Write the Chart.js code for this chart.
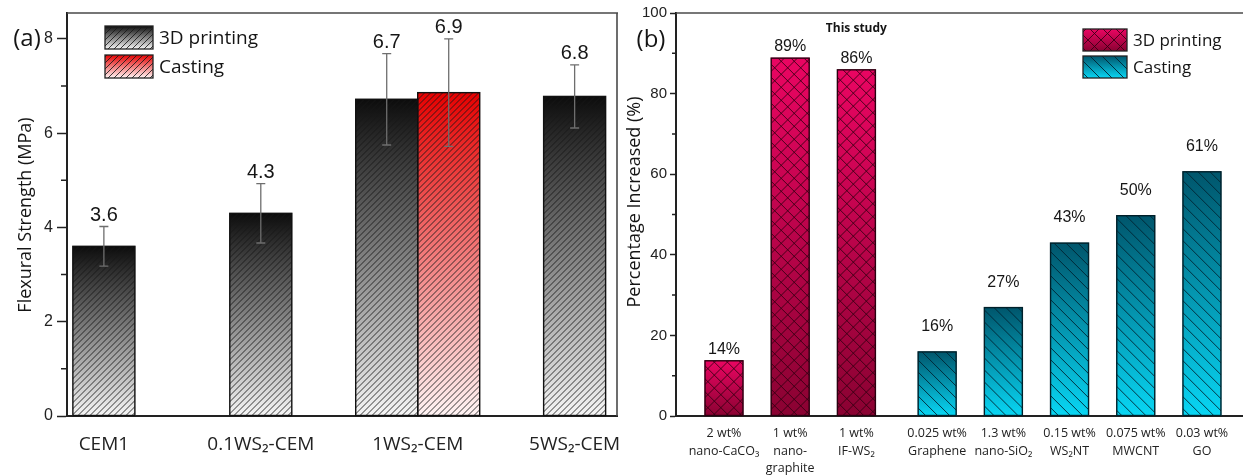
<!DOCTYPE html>
<html><head><meta charset="utf-8">
<script src="https://cdn.jsdelivr.net/npm/chart.js@4.4.1/dist/chart.umd.min.js"></script>
<style>
html,body{margin:0;padding:0;background:#fff;width:1243px;height:475px;overflow:hidden}
#wa{position:absolute;left:0;top:0;width:622px;height:475px}
#wb{position:absolute;left:622px;top:0;width:621px;height:475px}
</style></head><body>
<div id="wa"><canvas id="ca"></canvas></div>
<div id="wb"><canvas id="cb"></canvas></div>
<script>
// ---------- Panel (a) data ----------
const catsA = ['CEM1', '0.1WS₂-CEM', '1WS₂-CEM', '5WS₂-CEM'];
const printA = [3.6, 4.3, 6.72, 6.78];
const printErrA = [0.42, 0.63, 0.97, 0.67];
const castA = [null, null, 6.86, null];
const castErrA = [null, null, 1.14, null];
const yTicksA = [0, 2, 4, 6, 8];
const yMinorA = [1, 3, 5, 7];

// ---------- Panel (b) data ----------
const catsB3D = [['2 wt%', 'nano-CaCO₃'], ['1 wt%', 'nano-', 'graphite'], ['1 wt%', 'IF-WS₂']];
const valsB3D = [13.7, 88.8, 85.9];
const catsBCast = [['0.025 wt%', 'Graphene'], ['1.3 wt%', 'nano-SiO₂'], ['0.15 wt%', 'WS₂NT'], ['0.075 wt%', 'MWCNT'], ['0.03 wt%', 'GO']];
const valsBCast = [15.9, 26.9, 42.9, 49.7, 60.6];
const yTicksB = [0, 20, 40, 60, 80, 100];
const yMinorB = [10, 30, 50, 70, 90];

// ---------- styling / layout ----------
const FNUM = '"Liberation Sans", Arial, sans-serif';
const FTXT = '"Open Sans", "Noto Sans", sans-serif';
const GROUP_GAP = 0.22;
Chart.defaults.font.family = FTXT;
Chart.defaults.color = '#222';

function gradFill(top, bot) {
  return (c) => {
    if (c.type !== 'data' || !c.chart.chartArea) return top;
    const v = c.raw ? c.raw.y : null;
    if (v == null) return top;
    const ys = c.chart.scales.y;
    const g = c.chart.ctx.createLinearGradient(0, ys.getPixelForValue(v), 0, ys.getPixelForValue(0));
    g.addColorStop(0, top); g.addColorStop(1, bot);
    return g;
  };
}
function hatchRect(ctx, l, t, w, h, hatch) {
  ctx.save();
  ctx.beginPath(); ctx.rect(l, t, w, h); ctx.clip();
  ctx.strokeStyle = hatch.color; ctx.lineWidth = hatch.width;
  ctx.beginPath();
  const s = hatch.spacing;
  hatch.dirs.forEach(dir => {
    for (let k = Math.floor((l - h) / s) * s; k < l + w + s; k += s) {
      if (dir > 0) { ctx.moveTo(k, t + h); ctx.lineTo(k + h, t); }
      else { ctx.moveTo(k, t); ctx.lineTo(k + h, t + h); }
    }
  });
  ctx.stroke();
  ctx.restore();
}
const barDecor = {
  id: 'barDecor',
  afterDatasetsDraw(chart) {
    const ctx = chart.ctx, ys = chart.scales.y;
    chart.data.datasets.forEach((ds, di) => {
      chart.getDatasetMeta(di).data.forEach((el, i) => {
        const raw = ds.data[i]; if (!raw || raw.y == null) return;
        const p = el.getProps(['x', 'y', 'base', 'width'], true);
        const l = p.x - p.width / 2, t = Math.min(p.y, p.base), h = Math.abs(p.base - p.y);
        if (ds.hatch) hatchRect(ctx, l, t, p.width, h, ds.hatch);
        ctx.save(); ctx.strokeStyle = ds.edge || '#111'; ctx.lineWidth = 1.4;
        ctx.strokeRect(l, t, p.width, h); ctx.restore();
      });
    });
    // error bars and value notes
    chart.data.datasets.forEach((ds, di) => {
      chart.getDatasetMeta(di).data.forEach((el, i) => {
        const raw = ds.data[i]; if (!raw || raw.y == null) return;
        const x = el.x;
        let topY = ys.getPixelForValue(raw.y);
        if (ds.errs && ds.errs[i] != null) {
          const e = ds.errs[i];
          const y1 = ys.getPixelForValue(raw.y + e), y0 = ys.getPixelForValue(raw.y - e);
          ctx.save(); ctx.strokeStyle = '#6e6e6e'; ctx.lineWidth = 1.3;
          ctx.beginPath();
          ctx.moveTo(x, y0); ctx.lineTo(x, y1);
          ctx.moveTo(x - 4.5, y1); ctx.lineTo(x + 4.5, y1);
          ctx.moveTo(x - 4.5, y0); ctx.lineTo(x + 4.5, y0);
          ctx.stroke(); ctx.restore();
          topY = y1;
        }
        if (ds.noteFmt) {
          ctx.save(); ctx.fillStyle = '#161616'; ctx.font = ds.noteFont;
          ctx.textAlign = 'center'; ctx.textBaseline = 'alphabetic';
          ctx.fillText(ds.noteFmt(raw.y), x, topY - ds.noteGap);
          ctx.restore();
        }
      });
    });
  }
};
const boxLegend = {
  id: 'boxLegend',
  afterDraw(chart, args, o) {
    const ctx = chart.ctx;
    chart.data.datasets.forEach((ds, k) => {
      const l = o.x, t = o.y + k * o.step, w = o.w, h = o.h;
      ctx.save();
      const g = ctx.createLinearGradient(0, t, 0, t + h);
      g.addColorStop(0, ds.gTop); g.addColorStop(1, ds.gBot);
      ctx.fillStyle = g; ctx.fillRect(l, t, w, h);
      hatchRect(ctx, l, t, w, h, ds.hatch);
      ctx.strokeStyle = '#222'; ctx.lineWidth = 1.3; ctx.strokeRect(l, t, w, h);
      ctx.fillStyle = '#151515'; ctx.font = o.font; ctx.textAlign = 'left'; ctx.textBaseline = 'middle';
      ctx.fillText(ds.label, l + w + o.gap, t + h / 2 + 1);
      ctx.restore();
    });
  }
};
const frame = {
  id: 'frame',
  afterDraw(chart, args, o) {
    const {ctx, chartArea: {left, top, right, bottom}} = chart;
    const ys = chart.scales.y;
    ctx.save();
    ctx.strokeStyle = '#4a4a4a'; ctx.lineWidth = 1.6;
    ctx.beginPath(); ctx.moveTo(left, top); ctx.lineTo(right + 1, top);
    if (o.right) { ctx.moveTo(right, top); ctx.lineTo(right, bottom); }
    ctx.stroke();
    ctx.strokeStyle = '#222'; ctx.lineWidth = 1.5;
    ctx.beginPath();
    o.minor.forEach(v => { const y = ys.getPixelForValue(v); ctx.moveTo(left - o.minorLen, y); ctx.lineTo(left, y); });
    ctx.stroke();
    o.texts.forEach(t => {
      ctx.save();
      ctx.font = t.font; ctx.fillStyle = '#151515'; ctx.textAlign = 'center'; ctx.textBaseline = 'middle';
      const x = t.atX != null ? chart.scales.x.getPixelForValue(t.atX) : t.x;
      ctx.translate(x, t.y);
      if (t.rot) ctx.rotate(t.rot);
      ctx.fillText(t.text, 0, 0);
      ctx.restore();
    });
    ctx.restore();
  }
};

function yAxis(ticks, max, width, tickFont, tickLen, tickPad) {
  return {
    type: 'linear', min: 0, max: max,
    afterBuildTicks: s => { s.ticks = ticks.map(v => ({value: v})); },
    afterFit: s => { s.width = width; s.paddingTop = 0; s.paddingBottom = 0; },
    ticks: {font: {family: FNUM, size: tickFont}, color: '#222', padding: tickPad},
    grid: {display: true, drawOnChartArea: false, drawTicks: true, tickLength: tickLen, tickColor: '#222', tickWidth: 1.5},
    border: {display: true, color: '#222', width: 2}
  };
}
function xAxis(pos, labels, min, max, font, lh, pad) {
  return {
    type: 'linear', min: min, max: max, offset: false,
    afterBuildTicks: s => { s.ticks = pos.map(v => ({value: v})); },
    afterFit: s => { s.height = 59; s.paddingLeft = 0; s.paddingRight = 0; },
    ticks: {autoSkip: false, maxRotation: 0, padding: pad, font: {family: FTXT, size: font, lineHeight: lh}, color: '#222',
      callback: (v, i) => labels[i]},
    grid: {display: false, drawTicks: false},
    border: {display: true, color: '#222', width: 2}
  };
}

// ---------- Chart (a) ----------
const posA = catsA.map((c, i) => i);
new Chart(document.getElementById('ca'), {
  type: 'bar',
  data: {
    datasets: [
      {label: '3D printing', data: printA.map((v, i) => ({x: posA[i], y: v})), errs: printErrA,
        gTop: '#0c0c0c', gBot: '#f6f6f6', backgroundColor: gradFill('#0c0c0c', '#f6f6f6'),
        hatch: {dirs: [1], spacing: 6, color: 'rgba(25,25,25,0.85)', width: 1},
        noteFmt: v => v.toFixed(1), noteFont: '20px ' + FNUM, noteGap: 6,
        borderWidth: 0, barThickness: 62, skipNull: true},
      {label: 'Casting', data: castA.map((v, i) => ({x: posA[i], y: v})), errs: castErrA,
        gTop: '#e60000', gBot: '#fff4f4', backgroundColor: gradFill('#e60000', '#fff4f4'),
        hatch: {dirs: [1], spacing: 6, color: 'rgba(25,25,25,0.85)', width: 1},
        noteFmt: v => v.toFixed(1), noteFont: '20px ' + FNUM, noteGap: 6,
        borderWidth: 0, barThickness: 62, skipNull: true}
    ]
  },
  options: {
    responsive: true, maintainAspectRatio: false, animation: false,
    layout: {padding: {top: 13, right: 5, left: 0, bottom: 0}},
    scales: {
      x: xAxis(posA, catsA, -0.235, 3.27, 19, 1.2, 17),
      y: yAxis(yTicksA, 8.55, 67, 16, 10, 4)
    },
    plugins: {
      legend: {display: false}, tooltip: {enabled: false},
      boxLegend: {x: 105, y: 26, step: 29, w: 48, h: 23, gap: 6, font: '19px ' + FTXT},
      frame: {right: true, minor: yMinorA, minorLen: 6,
        texts: [{text: '(a)', x: 27, y: 39, font: '24px ' + FTXT},
                {text: 'Flexural Strength (MPa)', x: 26, y: 215, rot: -Math.PI / 2, font: '18px ' + FTXT}]}
    }
  },
  plugins: [barDecor, boxLegend, frame]
});

// ---------- Chart (b) ----------
const posB3D = catsB3D.map((c, i) => i);
const posBCast = catsBCast.map((c, i) => catsB3D.length + GROUP_GAP + i);
new Chart(document.getElementById('cb'), {
  type: 'bar',
  data: {
    datasets: [
      {label: '3D printing', data: valsB3D.map((v, i) => ({x: posB3D[i], y: v})),
        gTop: '#ea0562', gBot: '#8a0232', backgroundColor: gradFill('#ea0562', '#8a0232'),
        hatch: {dirs: [1, -1], spacing: 13, color: 'rgba(50,0,18,0.85)', width: 1},
        noteFmt: v => Math.round(v) + '%', noteFont: '16px ' + FNUM, noteGap: 7, edge: '#2a0010',
        borderWidth: 0, barThickness: 38, grouped: false},
      {label: 'Casting', data: valsBCast.map((v, i) => ({x: posBCast[i], y: v})),
        gTop: '#00566c', gBot: '#08d6f4', backgroundColor: gradFill('#00566c', '#08d6f4'),
        hatch: {dirs: [-1], spacing: 12, color: 'rgba(0,35,50,0.9)', width: 1},
        noteFmt: v => Math.round(v) + '%', noteFont: '16px ' + FNUM, noteGap: 21, edge: '#00202a',
        borderWidth: 0, barThickness: 38, grouped: false}
    ]
  },
  options: {
    responsive: true, maintainAspectRatio: false, animation: false,
    layout: {padding: {top: 13, right: 0, left: 0, bottom: 0}},
    scales: {
      x: xAxis(posB3D.concat(posBCast), catsB3D.concat(catsBCast), -0.725, 7.84, 12.5, 1.4, 9),
      y: yAxis(yTicksB, 100, 54, 15, 6, 3)
    },
    plugins: {
      legend: {display: false}, tooltip: {enabled: false},
      boxLegend: {x: 461, y: 29, step: 27, w: 44, h: 22, gap: 6, font: '17px ' + FTXT},
      frame: {right: false, minor: yMinorB, minorLen: 4,
        texts: [{text: '(b)', x: 29, y: 40, font: '24px ' + FTXT},
                {text: 'This study', atX: 2, y: 29, font: 'bold 12px ' + FTXT},
                {text: 'Percentage Increased (%)', x: 13, y: 202, rot: -Math.PI / 2, font: '18px ' + FTXT}]}
    }
  },
  plugins: [barDecor, boxLegend, frame]
});
</script>
</body></html>
